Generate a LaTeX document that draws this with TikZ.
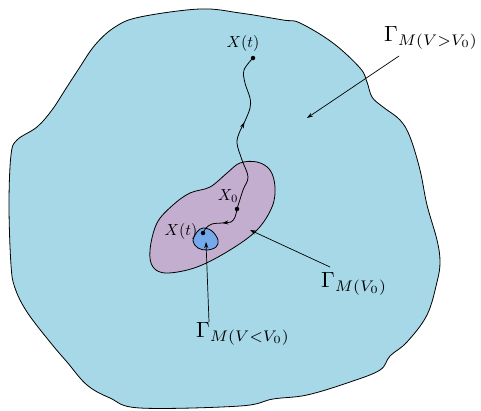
\documentclass[tikz,border=0pt]{standalone}
\usetikzlibrary{arrows.meta,decorations.markings}
\definecolor{outerblue}{RGB}{166,216,231}
\definecolor{midpurple}{RGB}{195,174,208}
\definecolor{innerblue}{RGB}{116,170,236}
\tikzset{
  region/.style={draw=black,line width=0.8pt},
  pointer/.style={draw=black,line width=0.7pt,-{Stealth[length=6pt,width=4pt]}},
  traj/.style={draw=black,line width=0.8pt,postaction={decorate},
    decoration={markings,mark=at position #1 with {\arrow{Stealth[length=6pt,width=4pt]}}}},
  dotnode/.style={circle,fill=black,inner sep=0pt,minimum size=4.5pt},
  lab/.style={inner sep=0pt,scale=1.6},
  glab/.style={inner sep=0pt,scale=2.2}
}
\begin{document}
\begin{tikzpicture}[x=1pt,y=-1pt]
\useasboundingbox (0,0) rectangle (481,410);
\fill[white] (0,0) rectangle (481,410);
% outer region
\draw[region,fill=outerblue] plot[smooth cycle,tension=0.6] coordinates {
(140,17) (200,9) (240,13) (283,20) (300,23) (333,43) (360,68) (367,82) (372,97)
(383,107) (400,120) (410,137) (420,170) (427,205) (437,240) (440,262) (437,282)
(427,315) (407,342) (390,356) (380,370) (350,382) (307,395) (273,399) (240,406)
(140,408) (110,398) (87,385) (67,362) (50,342) (27,312) (15,288) (11,265) (9,205)
(11,155) (17,140) (37,127) (52,110) (65,90) (78,70) (95,45) (115,27)};
% middle region
\draw[region,fill=midpurple] plot[smooth cycle,tension=0.6] coordinates {
(240,163) (257,162) (270,170) (275,187) (272,207) (257,230) (230,250) (197,267)
(167,273) (153,267) (150,250) (157,223) (173,205) (190,193) (210,187) (227,173)};
% inner region
\draw[region,fill=innerblue] plot[smooth cycle,tension=0.6] coordinates {
(193,241) (197,232) (203,228) (212,231) (218,240) (216,247) (207,250) (198,248)};
% points
\node[dotnode] (x0) at (237,209) {};
\node[dotnode] (xin) at (203,233) {};
\node[dotnode] (xout) at (253,58) {};
% trajectories
\draw[traj=0.57] plot[smooth,tension=0.6] coordinates {(237,209) (243,190) (248,177) (242,160) (237,143) (240,131) (245,121) (250,108) (250,98) (245,83) (244,70) (253,58)};
\draw[traj=0.5] plot[smooth,tension=0.6] coordinates {(237,209) (235,217) (231,222) (222,223) (212,224) (206,228) (203,233)};
% labels
\node[lab] (lxout) at (243,43) {$X(t)$};
\node[lab] (lx0) at (228,196) {$X_0$};
\node[lab] (lxin) at (181,231) {$X(t)$};
\node[glab] (gout) at (431,38) {$\Gamma_{M(V>V_0)}$};
\node[glab] (gmid) at (354,284) {$\Gamma_{M(V_0)}$};
\node[glab] (gin) at (243,334) {$\Gamma_{M(V<V_0)}$};
% pointers
\coordinate (aout) at (307,118);
\coordinate (amid) at (250,230);
\coordinate (ain) at (206,242);
\coordinate (sout) at (399,56);
\coordinate (smid) at (330,267);
\coordinate (sin) at (209,322);
\draw[pointer] (sout) -- (aout);
\draw[pointer] (smid) -- (amid);
\draw[pointer] (sin) -- (ain);
\end{tikzpicture}
\end{document}
